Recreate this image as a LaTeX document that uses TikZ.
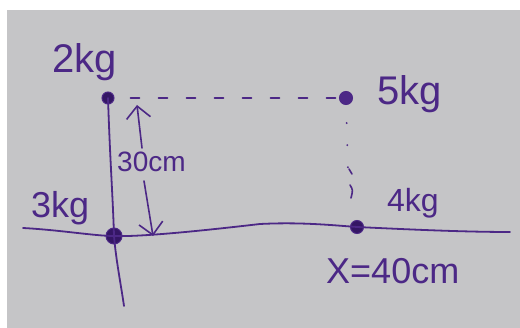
\documentclass[tikz,border=0pt]{standalone}
\usepackage{fontspec}
\setmainfont{Liberation Sans}
\usetikzlibrary{arrows.meta}
\definecolor{paper}{RGB}{197,197,199}
\definecolor{ink}{RGB}{76,40,134}
\definecolor{inkdark}{RGB}{52,22,100}
\tikzset{
  ink/.style={draw=ink, line width=1.8pt, line cap=round},
  mass/.style={circle, fill=inkdark, draw=ink, line width=1pt, inner sep=0pt},
  lbl/.style={text=ink, inner sep=0pt, anchor=base west},
  dim/.style={ink, line width=1.6pt, -{Straight Barb[length=12pt,width=24pt,line width=1.6pt]}}
}
\begin{document}
\begin{tikzpicture}[x=1pt,y=-1pt]
\useasboundingbox (0,0) rectangle (520,328);
\fill[white] (0,0) rectangle (520,328);
\fill[paper] (7,10) rectangle (520,328);
% masses
\node[mass, minimum size=12pt] (m2) at (108,98) {};
\node[mass, minimum size=13pt, fill=ink] (m5) at (346,98) {};
\node[mass, minimum size=16pt] (m3) at (114,236) {};
\node[mass, minimum size=13pt] (m4) at (357,227) {};
% axes
\coordinate (vb) at (124,306);
\coordinate (hl) at (23,228);
\coordinate (hr) at (510,232);
\draw[ink] (m2.center) .. controls (110,160) and (113,200) .. (m3.center) .. controls (116,260) and (121,285) .. (vb);
\draw[ink] (hl) .. controls (60,230) and (95,236) .. (m3.center)
  .. controls (140,237) and (200,231) .. (260,224)
  .. controls (300,222) and (330,225) .. (m4.center)
  .. controls (400,229) and (460,232) .. (hr);
% dashed and dotted guides
\draw[ink, line width=1.6pt, dash pattern=on 9pt off 19pt, dash phase=-16pt] (m2) -- (m5);
\draw[ink, line width=2pt, dash pattern=on 0.1pt off 22pt, dash phase=-18pt] (m5) -- (348,170);
\draw[ink, line width=1.6pt] (349,169) .. controls (351,172) .. (352,174);
\draw[ink, line width=1.6pt] (350,185) .. controls (353,190) .. (351,198);
% 30 cm dimension
\coordinate (ua) at (142,148);
\coordinate (ub) at (137,105);
\coordinate (da) at (144,181);
\coordinate (db) at (153,236);
\draw[dim] (ua) -- (ub);
\draw[dim] (da) -- (db);
% labels
\node[lbl, font=\fontsize{40}{40}\selectfont] (l2) at (52,73) {2kg};
\node[lbl, font=\fontsize{40}{40}\selectfont] (l5) at (377,105) {5kg};
\node[lbl, font=\fontsize{36}{36}\selectfont] (l3) at (31,218) {3kg};
\node[lbl, font=\fontsize{32}{32}\selectfont] (l4) at (387,212) {4kg};
\node[lbl, font=\fontsize{28}{28}\selectfont] (l30) at (117,172) {30cm};
\node[lbl, font=\fontsize{36}{36}\selectfont] (lx) at (326,284) {X=40cm};
\end{tikzpicture}
\end{document}
